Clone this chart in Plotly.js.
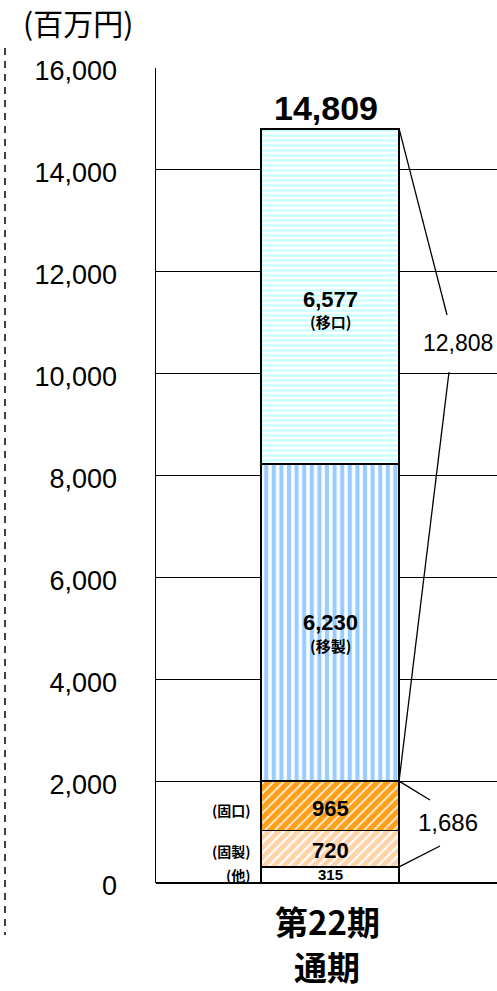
<!DOCTYPE html>
<html>
<head>
<meta charset="utf-8">
<script src="https://cdn.plot.ly/plotly-3.0.1.min.js"></script>
<style>
html,body{margin:0;padding:0;background:#fff;}
#chart{width:497px;height:991px;}
</style>
</head>
<body>
<div id="chart"></div>
<script>
// ---- data ----
const categories = ['第22期通期'];
const categoryLines = ['第22期', '通期'];
const segmentNames = ['他', '固製', '固口', '移製', '移口'];
const segmentValues = [315, 720, 965, 6230, 6577];
const totalValue = 14809;
const bracketLabels = ['12,808', '1,686'];
const unitLabel = '(百万円)';
const yTickVals = [0, 2000, 4000, 6000, 8000, 10000, 12000, 14000, 16000];
const yTickText = ['0', '2,000', '4,000', '6,000', '8,000', '10,000', '12,000', '14,000', '16,000'];

// ---- styles ----
const NUM = 'Liberation Sans, Arial, sans-serif';
const JP = 'Noto Sans CJK JP, sans-serif';
const patterns = [
  {shape: '', bgcolor: '#ffffff', fgcolor: '#ffffff'},
  {shape: '/', bgcolor: '#ffd3a8', fgcolor: '#ffffff', size: 7, solidity: 0.3},
  {shape: '/', bgcolor: '#ffa01a', fgcolor: '#ffffff', size: 7, solidity: 0.22},
  {shape: '|', bgcolor: '#ffffff', fgcolor: '#99ccff', size: 7.6, solidity: 0.55},
  {shape: '-', bgcolor: '#ffffff', fgcolor: '#ccffff', size: 5, solidity: 0.5}
];
const barWidth = 0.405;
const xr0 = -0.5103;

const traces = segmentNames.map((n, i) => ({
  type: 'bar',
  name: n,
  x: categories,
  y: [segmentValues[i]],
  width: barWidth,
  marker: {
    color: i === 0 ? '#ffffff' : patterns[i].bgcolor,
    pattern: i === 0 ? undefined : patterns[i],
    line: {color: '#000000', width: 1.5}
  },
  hoverinfo: 'skip'
}));

// cumulative bottoms
const bottoms = [];
let acc = 0;
segmentValues.forEach(v => { bottoms.push(acc); acc += v; });
const mid = i => bottoms[i] + segmentValues[i] / 2;
const fmt = v => v.toLocaleString('en-US');

const annotations = [];
// total
annotations.push({x: 0, y: totalValue, xref: 'x', yref: 'y', text: '<b>' + fmt(totalValue) + '</b>',
  showarrow: false, xanchor: 'center', yanchor: 'bottom', xshift: -4, yshift: 0, font: {family: NUM, size: 34, color: '#000'}});
// inside labels
const insideNum = [
  {i: 4, size: 22, shift: -3, nameShift: -25},
  {i: 3, size: 22, shift: 0, nameShift: -23},
  {i: 2, size: 22, shift: -3},
  {i: 1, size: 22, shift: -2},
  {i: 0, size: 15, shift: 0}
];
insideNum.forEach(o => {
  const t = fmt(segmentValues[o.i]);
  annotations.push({x: 0, y: mid(o.i), xref: 'x', yref: 'y', text: '<b>' + t + '</b>',
    showarrow: false, xanchor: 'center', yshift: o.shift, font: {family: NUM, size: o.size, color: '#000'}});
  if (o.nameShift !== undefined) {
    annotations.push({x: 0, y: mid(o.i), xref: 'x', yref: 'y', text: '<b>(' + segmentNames[o.i] + ')</b>',
      showarrow: false, xanchor: 'center', yshift: o.nameShift, font: {family: JP, size: 15, color: '#000'}});
  }
});
// left side labels for small segments
[[2, -4], [1, -2], [0, 0]].forEach(([i, s]) => {
  annotations.push({x: 0.2845, y: mid(i), xref: 'paper', yref: 'y', text: '<b>(' + segmentNames[i] + ')</b>',
    showarrow: false, xanchor: 'right', yshift: s, font: {family: JP, size: 14, color: '#000'}});
});
// bracket labels
annotations.push({x: 0.8856, y: 10601, xref: 'paper', yref: 'y', text: bracketLabels[0],
  showarrow: false, xanchor: 'center', font: {family: NUM, size: 23, color: '#000'}});
annotations.push({x: 0.8563, y: 1197, xref: 'paper', yref: 'y', text: bracketLabels[1],
  showarrow: false, xanchor: 'center', font: {family: NUM, size: 24, color: '#000'}});
// unit label
annotations.push({x: -0.397, y: 1.057, xref: 'paper', yref: 'paper', text: unitLabel,
  showarrow: false, xanchor: 'left', yanchor: 'middle', font: {family: JP, size: 30, color: '#000'}});
// category label
annotations.push({x: 0, y: -0.047, xref: 'x', yref: 'paper', text: '<b>' + categoryLines[0] + '</b>',
  showarrow: false, xanchor: 'center', yanchor: 'middle', borderpad: 0, xshift: -3, font: {family: JP, size: 33, color: '#000'}});
annotations.push({x: 0, y: -0.102, xref: 'x', yref: 'paper', text: '<b>' + categoryLines[1] + '</b>',
  showarrow: false, xanchor: 'center', yanchor: 'middle', borderpad: 0, xshift: -3, font: {family: JP, size: 33, color: '#000'}});

const edge = barWidth / 2;
const ln = {color: '#000', width: 1.3};
const shapes = [
  {type: 'line', xref: 'x', yref: 'y', x0: edge, y0: totalValue, x1: 0.3431, y1: 11151, line: ln},
  {type: 'line', xref: 'x', yref: 'y', x0: 0.3489, y0: 10031, x1: edge, y1: bottoms[3], line: ln},
  {type: 'line', xref: 'x', yref: 'y', x0: edge, y0: bottoms[3], x1: 0.2932, y1: 1629, line: ln},
  {type: 'line', xref: 'x', yref: 'y', x0: 0.3225, y0: 726, x1: edge, y1: bottoms[1], line: ln},
  {type: 'line', xref: 'paper', yref: 'paper', x0: -0.4428, y0: 1.0245, x1: -0.4428, y1: -0.0638,
    line: {color: '#000', width: 1.5, dash: '7px,6px'}}
];

const layout = {
  width: 497, height: 991,
  margin: {l: 156, r: 0, t: 68, b: 108, pad: 0},
  paper_bgcolor: '#fff', plot_bgcolor: '#fff',
  barmode: 'stack',
  bargap: 0,
  showlegend: false,
  xaxis: {type: 'category', range: [xr0, xr0 + 1], showticklabels: false, showgrid: false,
    zeroline: false, showline: false, ticks: '', fixedrange: true},
  yaxis: {range: [0, 16000], tickvals: yTickVals, ticktext: yTickText, showgrid: true,
    gridcolor: '#000', gridwidth: 1, zeroline: true, zerolinecolor: '#000', zerolinewidth: 1.5,
    showline: true, linecolor: '#000', linewidth: 1.5, ticks: '', ticklabelstandoff: 32,
    ticklabelshift: 3, tickfont: {family: NUM, size: 27, color: '#000'}, fixedrange: true},
  annotations: annotations,
  shapes: shapes
};

Plotly.newPlot('chart', traces, layout, {displayModeBar: false, staticPlot: true});
</script>
</body>
</html>
